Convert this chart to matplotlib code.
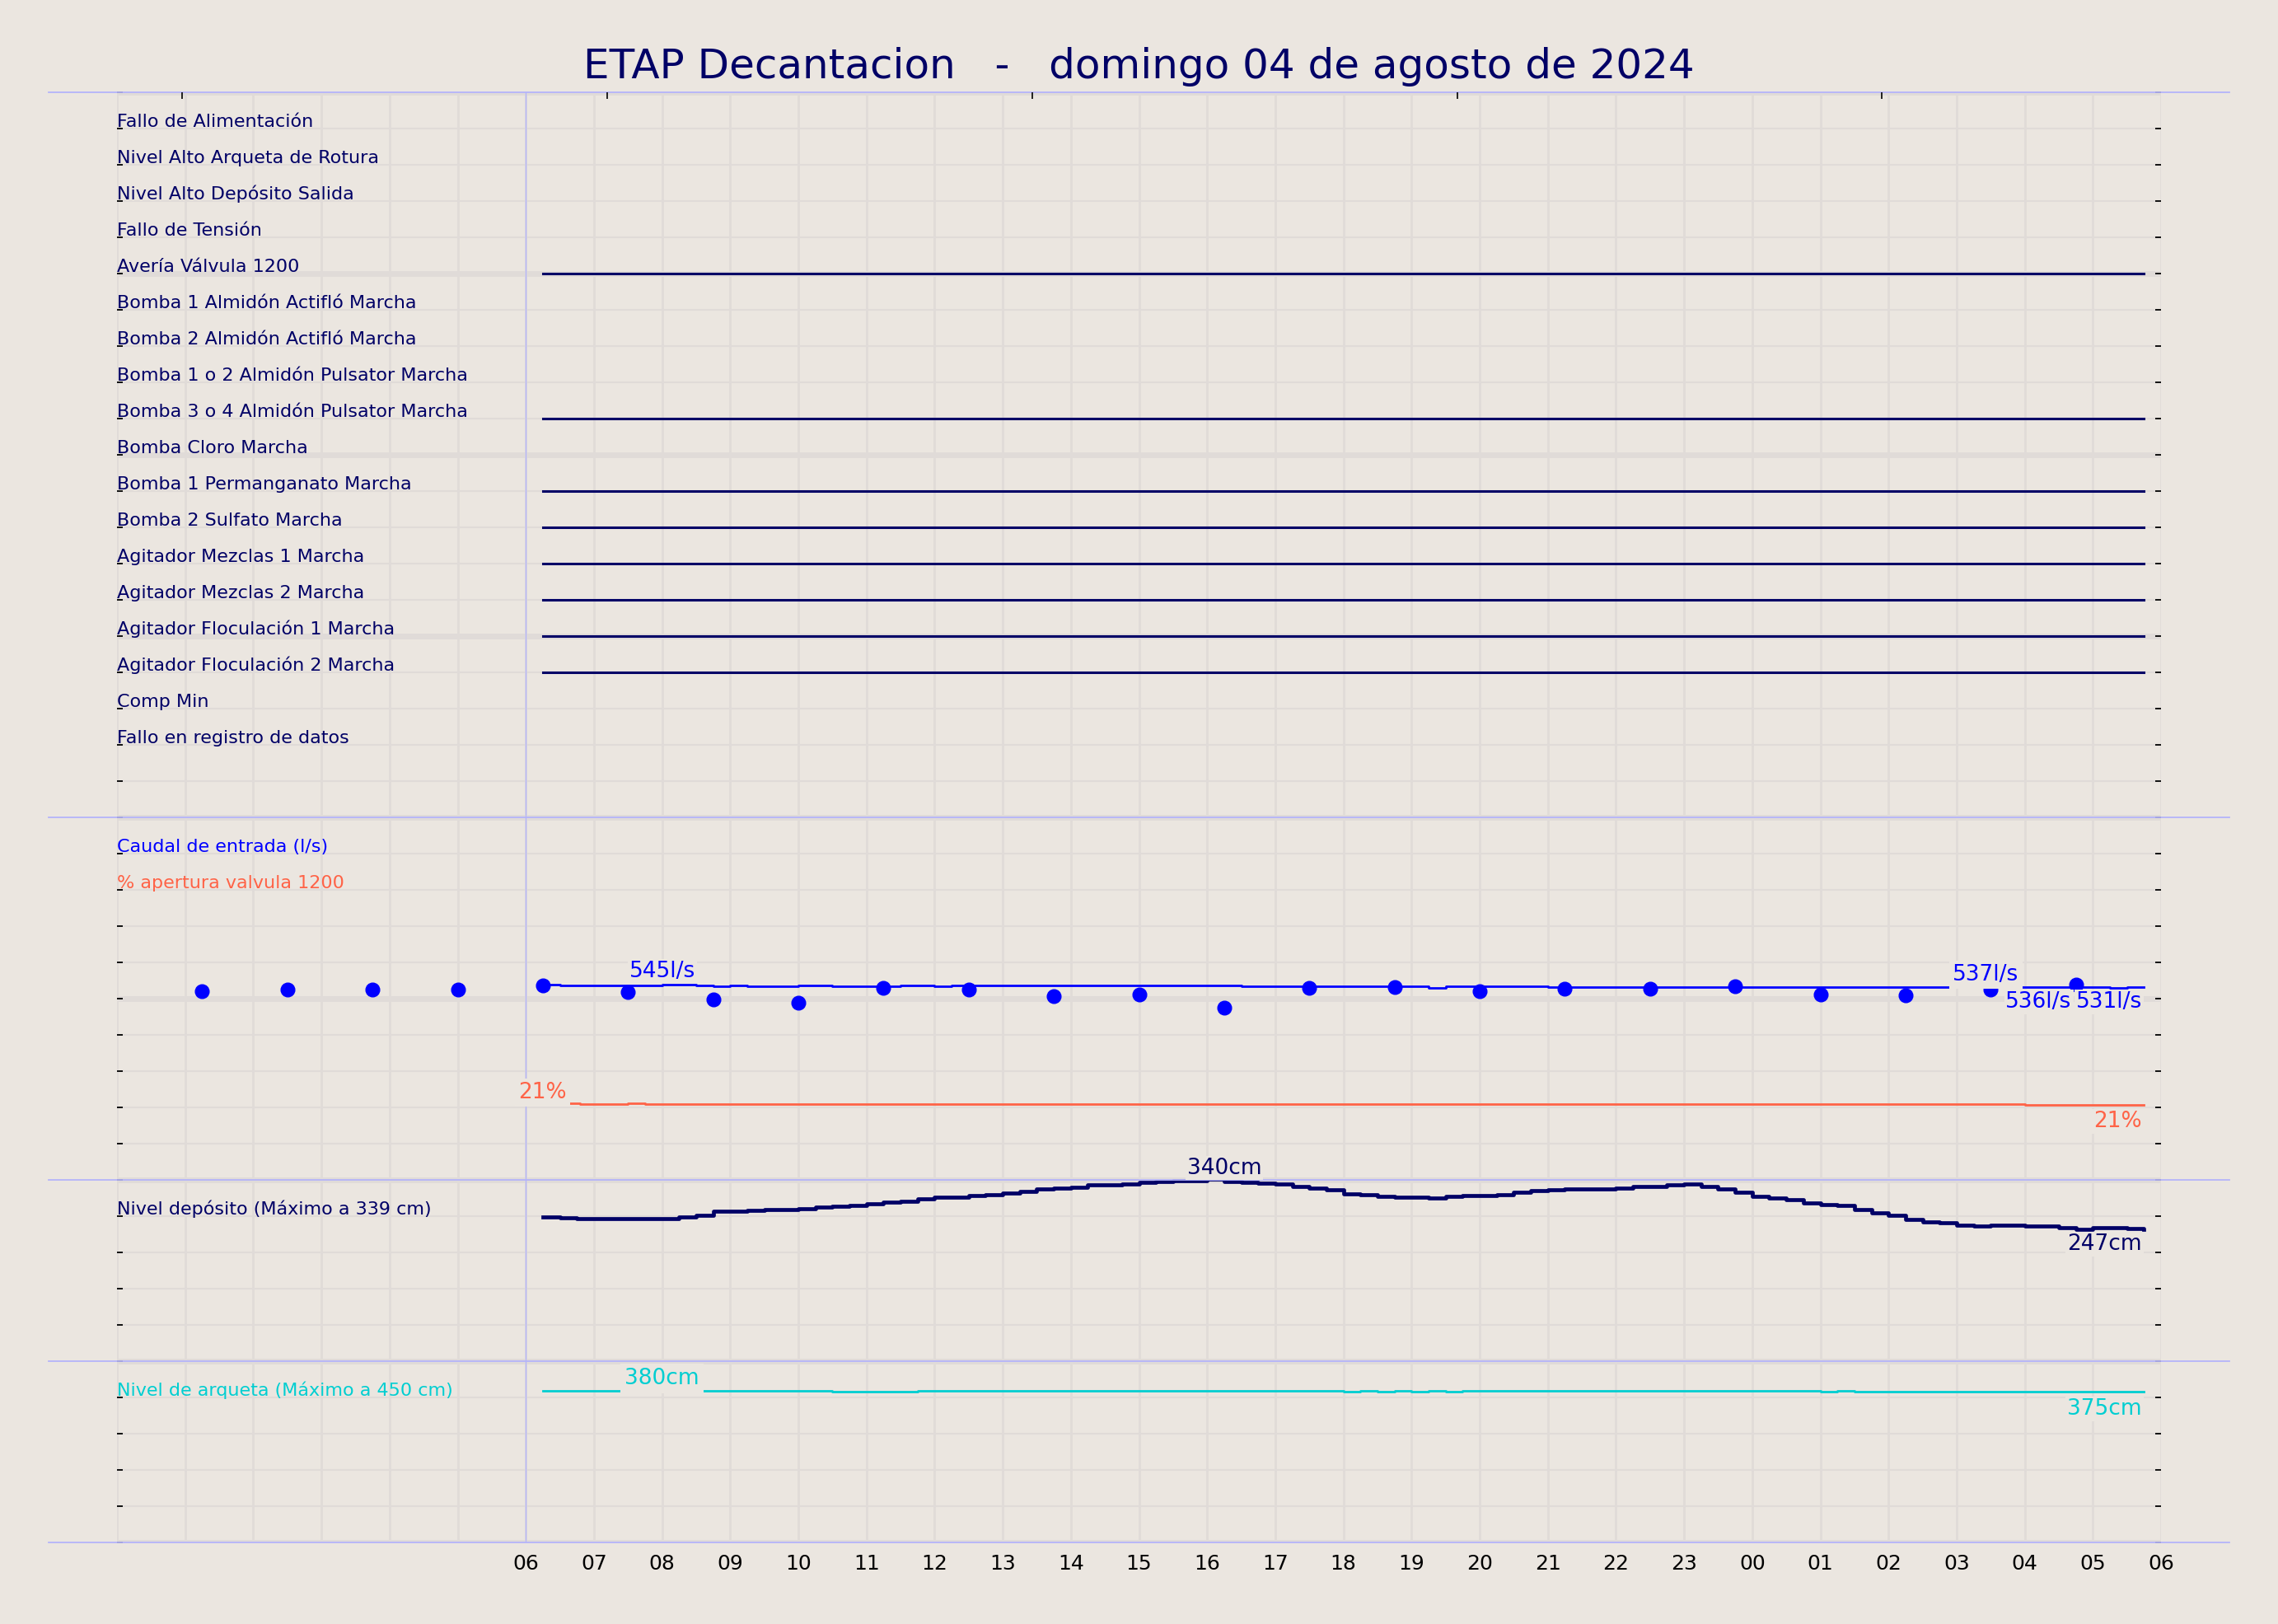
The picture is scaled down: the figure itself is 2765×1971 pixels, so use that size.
import numpy as np
import matplotlib
matplotlib.use("Agg")
import matplotlib.pyplot as plt

# colores
bg = "#ebe6e0"
grid_c = "#e0dbd8"
sep_c = "#b4b4fa"
navy = "#000066"
azul = "#0000ff"
tomate = "#ff6347"
turquesa = "#00ced1"

titulo = "ETAP Decantacion   -   domingo 04 de agosto de 2024"

# señales digitales (panel superior) y si estan activas todo el dia
senales = [
    "Fallo de Alimentación",
    "Nivel Alto Arqueta de Rotura",
    "Nivel Alto Depósito Salida",
    "Fallo de Tensión",
    "Avería Válvula 1200",
    "Bomba 1 Almidón Actifló Marcha",
    "Bomba 2 Almidón Actifló Marcha",
    "Bomba 1 o 2 Almidón Pulsator Marcha",
    "Bomba 3 o 4 Almidón Pulsator Marcha",
    "Bomba Cloro Marcha",
    "Bomba 1 Permanganato Marcha",
    "Bomba 2 Sulfato Marcha",
    "Agitador Mezclas 1 Marcha",
    "Agitador Mezclas 2 Marcha",
    "Agitador Floculación 1 Marcha",
    "Agitador Floculación 2 Marcha",
    "Comp Min",
    "Fallo en registro de datos",
]
activas = [0, 0, 0, 0, 1, 0, 0, 0, 1, 0, 1, 1, 1, 1, 1, 1, 0, 0]

# horas desde las 06:00, registros cada 15 min (06:15 .. 05:45)
t = np.arange(0.25, 23.76, 0.25)

caudal = [539, 536, 536, 536, 536, 536, 536, 538, 538, 536,
          533, 536, 533, 533, 533, 536, 536, 533, 533, 533,
          535, 536, 536, 533, 536, 536, 536, 536, 536, 536,
          536, 536, 536, 536, 536, 536, 536, 536, 536, 536,
          536, 533, 533, 533, 533, 535, 535, 533, 533, 533,
          533, 533, 530, 533, 533, 533, 533, 533, 533, 532,
          532, 532, 532, 532, 532, 532, 532, 532, 532, 532,
          532, 532, 532, 532, 532, 532, 532, 532, 532, 532,
          532, 532, 532, 532, 532, 532, 532, 532, 532, 532,
          532, 532, 529, 532, 531]

# caudal puntual (puntos)
t_puntos = [-4.75, -3.5, -2.25, -1.0, 0.25, 1.5, 2.75, 4.0, 5.25, 6.5, 7.75, 9.0,
            10.25, 11.5, 12.75, 14.0, 15.25, 16.5, 17.75, 19.0, 20.25, 21.5, 22.75]
caudal_puntos = [520, 524, 524, 524, 536, 518, 497, 489, 530, 524, 506, 511,
                 474, 530, 531, 520, 527, 527, 535, 512, 508, 526, 539]

# % apertura valvula 1200
t_valvula = [0.65, 0.8, 1.5, 1.75, 22.0, 23.75]
valvula = [21.2, 20.9, 21.2, 20.9, 20.6, 20.6]

deposito = [269, 268, 266, 267, 267, 266, 267, 267, 269, 272,
            280, 280, 282, 284, 284, 285, 288, 290, 291, 294,
            297, 299, 303, 306, 306, 309, 312, 314, 318, 322,
            323, 325, 330, 330, 332, 335, 336, 337, 338, 340,
            336, 335, 333, 331, 326, 324, 321, 313, 311, 308,
            306, 306, 305, 308, 310, 310, 312, 316, 319, 320,
            322, 322, 322, 324, 326, 326, 329, 332, 326, 322,
            316, 308, 305, 302, 296, 293, 291, 283, 277, 272,
            265, 261, 259, 255, 253, 255, 255, 253, 253, 250,
            247, 249, 249, 248, 247]

arqueta = [376, 376, 376, 376, 376, 376, 376, 376, 376, 376,
           376, 376, 376, 376, 376, 376, 376, 375, 375, 375,
           375, 375, 376, 376, 376, 376, 376, 376, 376, 376,
           376, 376, 376, 376, 376, 376, 376, 376, 376, 376,
           376, 376, 376, 376, 376, 376, 376, 375, 376, 375,
           376, 375, 376, 375, 376, 376, 376, 376, 376, 376,
           376, 376, 376, 376, 376, 376, 376, 376, 376, 376,
           376, 376, 376, 376, 376, 375, 377, 375, 375, 375,
           375, 375, 375, 375, 375, 375, 375, 375, 375, 375,
           375, 375, 375, 375, 375]

max_deposito = 339
max_arqueta = 450

# escalado de cada panel a filas del eje
y_caudal = 10 + np.array(caudal) / 100
y_puntos = 10 + np.array(caudal_puntos) / 100
y_valvula = 10 + np.array(valvula) / 10
y_deposito = 5 + 5 * np.array(deposito) / max_deposito
y_arqueta = 5 * np.array(arqueta) / max_arqueta

W, H = 2765, 1971
fig = plt.figure(figsize=(W / 100, H / 100), dpi=100, facecolor=bg)
ax = fig.add_axes([142 / W, 1 - 1872 / H, (2623 - 142) / W, (1872 - 112) / H])
ax.set_facecolor(bg)
ax.set_xlim(-6, 24)
ax.set_ylim(0, 40)
for s in ax.spines.values():
    s.set_visible(False)

ax.set_xticks(range(-6, 25))
ax.set_xticklabels(["" if h < 0 else "%02d" % ((6 + h) % 24) for h in range(-6, 25)])
ax.set_yticks(range(0, 41, 5))
ax.set_yticks(range(0, 41), minor=True)
ax.tick_params(axis="x", length=0, pad=10, labelsize=18, colors="black")
ax.tick_params(axis="y", which="both", direction="in", length=5, width=1.3,
               left=True, right=True, labelleft=False, labelright=False)
ax.grid(True, axis="y", which="major", color=grid_c, lw=5)
ax.grid(True, axis="y", which="minor", color=grid_c, lw=1.5)
ax.grid(True, axis="x", which="major", color=grid_c, lw=2)
ax.set_axisbelow(True)

# marcas de arriba
ax2 = ax.twiny()
ax2.set_xlim(-6, 24)
ax2.set_xticks([-5.05, 1.2, 7.43, 13.67, 19.9])
ax2.set_xticklabels([])
ax2.tick_params(axis="x", direction="in", length=6, width=1.2)
for s in ax2.spines.values():
    s.set_visible(False)

# separadores de paneles
for ys in [0, 5, 10, 20, 40]:
    ax.plot([-7, 25], [ys, ys], color=sep_c, lw=1.3, clip_on=False, zorder=2.5)
ax.plot([0, 0], [0, 40], color=sep_c, lw=1.0, zorder=2.5)

lab_fs = 16
for k, (nombre, on) in enumerate(zip(senales, activas)):
    yy = 39 - k
    ax.text(-6, yy + 0.05, nombre, color=navy, fontsize=lab_fs, ha="left", va="baseline")
    if on:
        ax.plot([t[0], t[-1]], [yy, yy], color=navy, lw=2.2)

ax.text(-6, 19.05, "Caudal de entrada (l/s)", color=azul, fontsize=lab_fs, va="baseline")
ax.text(-6, 18.05, "% apertura valvula 1200", color=tomate, fontsize=lab_fs, va="baseline")
ax.text(-6, 9.05, "Nivel depósito (Máximo a 339 cm)", color=navy, fontsize=lab_fs, va="baseline")
ax.text(-6, 4.05, "Nivel de arqueta (Máximo a 450 cm)", color=turquesa, fontsize=lab_fs, va="baseline")

ax.plot(t, y_caudal, color=azul, lw=2.0, drawstyle="steps-post")
ax.plot(t_puntos, y_puntos, "o", color=azul, ms=12, zorder=3)
ax.plot(t_valvula, y_valvula, color=tomate, lw=2.0, drawstyle="steps-post")
ax.plot(t, y_deposito, color=navy, lw=3.4, drawstyle="steps-post")
ax.plot(t, y_arqueta, color=turquesa, lw=2.0, drawstyle="steps-post")

val_fs = 19
# (x, y, texto, alineacion, color, margen de la caja)
notas = [
    (2.0, 15.6, "545l/s", "center", azul, 0.07),
    (21.43, 15.5, "537l/s", "center", azul, 0.15),
    (22.69, 14.75, "536l/s", "right", azul, 0.07),
    (23.72, 14.75, "531l/s", "right", azul, 0.07),
    (0.6, 12.25, "21%", "right", tomate, 0.15),
    (23.72, 11.45, "21%", "right", tomate, 0.07),
    (10.25, 10.17, "340cm", "center", navy, 0.05),
    (23.72, 8.07, "247cm", "right", navy, 0.07),
    (2.0, 4.36, "380cm", "center", turquesa, 0.2),
    (23.72, 3.53, "375cm", "right", turquesa, 0.07),
]
for x, y, txt, ha, c, p in notas:
    ax.text(x, y, txt, color=c, fontsize=val_fs, ha=ha, va="baseline", zorder=4,
            bbox=dict(boxstyle="square,pad=%s" % p, fc=bg, ec="none"))

fig.text(0.5, 1 - 81 / H, titulo, color=navy, fontsize=36, ha="center", va="center")

fig.savefig("out.png", dpi=100, facecolor=bg)
